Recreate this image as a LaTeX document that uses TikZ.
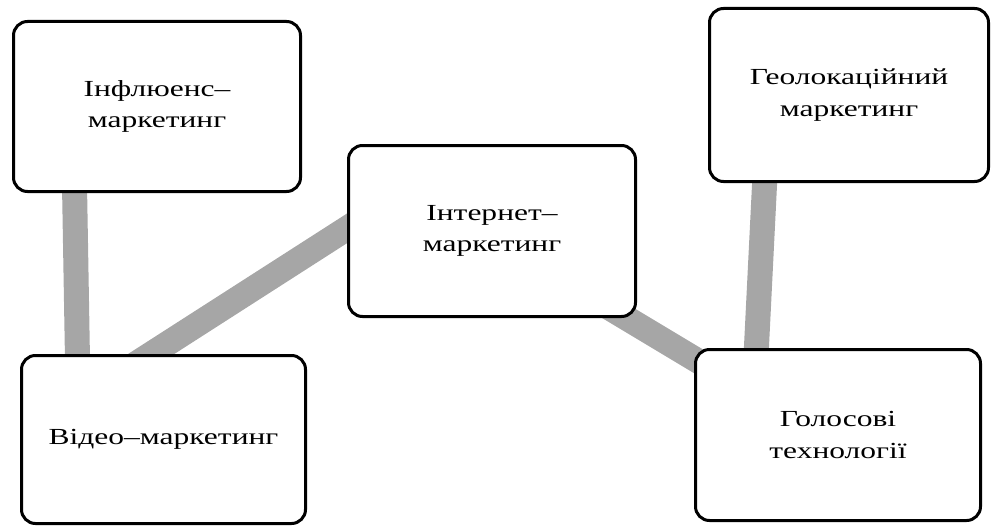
\documentclass[tikz,border=0pt]{standalone}
\usepackage{fontspec}
\setmainfont{Liberation Serif}[FakeStretch=1.37]
\usetikzlibrary{calc,backgrounds}
\tikzset{
  box/.style={draw=black, line width=3pt, rounded corners=14pt, fill=white,
    align=center, inner sep=0pt, font=\fontsize{23}{31.5}\selectfont},
  link/.style={draw=linkgray, line width=25pt, line cap=butt}
}
\definecolor{linkgray}{RGB}{166,166,166}
\begin{document}
\begin{tikzpicture}[x=1pt,y=-1pt]
\useasboundingbox (0,0) rectangle (992,527);
\node[box, minimum width=287pt, minimum height=170pt] (b1) at (157,106.5) {Інфлюенс–\\маркетинг};
\node[box, minimum width=287pt, minimum height=171pt] (b2) at (492,231) {Інтернет–\\маркетинг};
\node[box, minimum width=279pt, minimum height=173pt] (b3) at (849,95) {Геолокаційний\\маркетинг};
\node[box, minimum width=284pt, minimum height=168pt] (b4) at (163.5,439.5) {Відео–маркетинг};
\node[box, minimum width=285pt, minimum height=171pt] (b5) at (838,435) {Голосові\\технології};
\begin{scope}[on background layer]
\draw[link] ($(b1.south west)+(62.5,-8)$) -- ($(b4.north west)+(57.5,6)$);
\draw[link] ($(b2.west)+(13,-11)$) -- ($(b4.north west)+(114,11)$);
\draw[link] ($(b2.south east)+(-47,-21.8)$) -- ($(b5.north west)+(16,20.2)$);
\draw[link] ($(b3.south west)+(57,-8)$) -- ($(b5.north west)+(62,8)$);
\end{scope}
\end{tikzpicture}
\end{document}
